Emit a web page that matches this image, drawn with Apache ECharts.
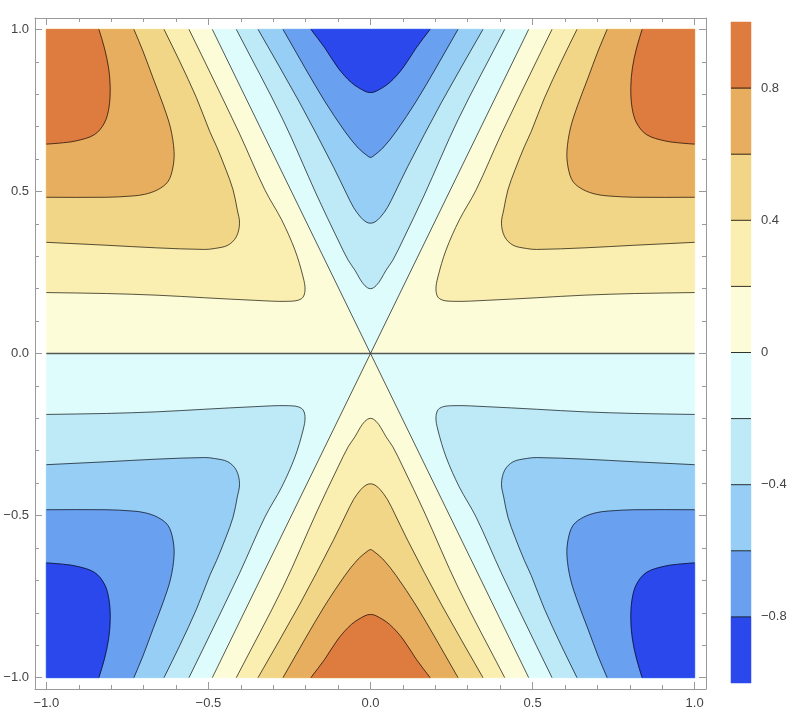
<!DOCTYPE html>
<html><head><meta charset="utf-8">
<script src="https://cdn.jsdelivr.net/npm/echarts@6/dist/echarts.min.js"></script>
<style>html,body{margin:0;padding:0;background:#fff}#c{width:800px;height:727px}</style>
</head><body><div id="c"></div>
<script>
// ---- data ----
const XR = [-1, 1];
const YR = [-1, 1];
const xMajorTicks = [-1, -0.5, 0, 0.5, 1];
const xMinorTicks = [-1, -0.9, -0.8, -0.7, -0.6, -0.5, -0.4, -0.3, -0.2, -0.1, 0, 0.1, 0.2, 0.3, 0.4, 0.5, 0.6, 0.7, 0.8, 0.9, 1];
const yMajorTicks = [-1, -0.5, 0, 0.5, 1];
const yMinorTicks = [-1, -0.9, -0.8, -0.7, -0.6, -0.5, -0.4, -0.3, -0.2, -0.1, 0, 0.1, 0.2, 0.3, 0.4, 0.5, 0.6, 0.7, 0.8, 0.9, 1];
const contourLevels = [-1, -0.8, -0.6, -0.4, -0.2, 0, 0.2, 0.4, 0.6, 0.8, 1];
const colorbarLabels = [-0.8, -0.4, 0, 0.4, 0.8];

// zero contours
const zeroAxis = [[-1, 0], [1, 0]];
const zeroTop = [[-0.488, 1], [0, 0], [0.488, 1]];
const zeroBottom = [[-0.488, -1], [0, 0], [0.488, -1]];

// top-left side contours (levels 0.2, 0.4, 0.6, 0.8)
const tl02 = [[-0.560,1],[-0.512,0.902],[-0.405,0.680],[-0.326,0.505],[-0.274,0.412],[-0.233,0.319],[-0.208,0.236],[-0.202,0.195],[-0.213,0.169],[-0.254,0.161],[-0.357,0.164],[-0.512,0.172],[-0.661,0.180],[-0.815,0.185],[-1,0.188]];
const tl04 = [[-0.637,1],[-0.589,0.902],[-0.537,0.789],[-0.496,0.685],[-0.475,0.639],[-0.446,0.567],[-0.424,0.505],[-0.411,0.443],[-0.404,0.402],[-0.414,0.360],[-0.440,0.334],[-0.481,0.324],[-0.512,0.321],[-0.661,0.326],[-0.815,0.334],[-1,0.343]];
const tl06 = [[-0.730,1],[-0.702,0.933],[-0.671,0.850],[-0.640,0.768],[-0.617,0.696],[-0.606,0.623],[-0.610,0.572],[-0.625,0.530],[-0.657,0.505],[-0.697,0.491],[-0.734,0.486],[-0.815,0.482],[-1,0.482]];
const tl08 = [[-0.838,1],[-0.821,0.943],[-0.808,0.881],[-0.803,0.820],[-0.807,0.758],[-0.821,0.711],[-0.852,0.675],[-0.908,0.656],[-0.960,0.649],[-1,0.646]];

// top-right side contours (levels 0.2 .. 0.8)
const tr02 = [[0.560,1],[0.512,0.902],[0.405,0.680],[0.326,0.505],[0.274,0.412],[0.233,0.319],[0.208,0.236],[0.202,0.195],[0.213,0.169],[0.254,0.161],[0.357,0.164],[0.512,0.172],[0.661,0.180],[0.815,0.185],[1,0.188]];
const tr04 = [[0.637,1],[0.589,0.902],[0.537,0.789],[0.496,0.685],[0.475,0.639],[0.446,0.567],[0.424,0.505],[0.411,0.443],[0.404,0.402],[0.414,0.360],[0.440,0.334],[0.481,0.324],[0.512,0.321],[0.661,0.326],[0.815,0.334],[1,0.343]];
const tr06 = [[0.730,1],[0.702,0.933],[0.671,0.850],[0.640,0.768],[0.617,0.696],[0.606,0.623],[0.610,0.572],[0.625,0.530],[0.657,0.505],[0.697,0.491],[0.734,0.486],[0.815,0.482],[1,0.482]];
const tr08 = [[0.838,1],[0.821,0.943],[0.808,0.881],[0.803,0.820],[0.807,0.758],[0.821,0.711],[0.852,0.675],[0.908,0.656],[0.960,0.649],[1,0.646]];

// bottom-left side contours (levels -0.2 .. -0.8)
const bl02 = [[-0.560,-1],[-0.512,-0.902],[-0.405,-0.680],[-0.326,-0.505],[-0.274,-0.412],[-0.233,-0.319],[-0.208,-0.236],[-0.202,-0.195],[-0.213,-0.169],[-0.254,-0.161],[-0.357,-0.164],[-0.512,-0.172],[-0.661,-0.180],[-0.815,-0.185],[-1,-0.188]];
const bl04 = [[-0.637,-1],[-0.589,-0.902],[-0.537,-0.789],[-0.496,-0.685],[-0.475,-0.639],[-0.446,-0.567],[-0.424,-0.505],[-0.411,-0.443],[-0.404,-0.402],[-0.414,-0.360],[-0.440,-0.334],[-0.481,-0.324],[-0.512,-0.321],[-0.661,-0.326],[-0.815,-0.334],[-1,-0.343]];
const bl06 = [[-0.730,-1],[-0.702,-0.933],[-0.671,-0.850],[-0.640,-0.768],[-0.617,-0.696],[-0.606,-0.623],[-0.610,-0.572],[-0.625,-0.530],[-0.657,-0.505],[-0.697,-0.491],[-0.734,-0.486],[-0.815,-0.482],[-1,-0.482]];
const bl08 = [[-0.838,-1],[-0.821,-0.943],[-0.808,-0.881],[-0.803,-0.820],[-0.807,-0.758],[-0.821,-0.711],[-0.852,-0.675],[-0.908,-0.656],[-0.960,-0.649],[-1,-0.646]];

// bottom-right side contours (levels -0.2 .. -0.8)
const br02 = [[0.560,-1],[0.512,-0.902],[0.405,-0.680],[0.326,-0.505],[0.274,-0.412],[0.233,-0.319],[0.208,-0.236],[0.202,-0.195],[0.213,-0.169],[0.254,-0.161],[0.357,-0.164],[0.512,-0.172],[0.661,-0.180],[0.815,-0.185],[1,-0.188]];
const br04 = [[0.637,-1],[0.589,-0.902],[0.537,-0.789],[0.496,-0.685],[0.475,-0.639],[0.446,-0.567],[0.424,-0.505],[0.411,-0.443],[0.404,-0.402],[0.414,-0.360],[0.440,-0.334],[0.481,-0.324],[0.512,-0.321],[0.661,-0.326],[0.815,-0.334],[1,-0.343]];
const br06 = [[0.730,-1],[0.702,-0.933],[0.671,-0.850],[0.640,-0.768],[0.617,-0.696],[0.606,-0.623],[0.610,-0.572],[0.625,-0.530],[0.657,-0.505],[0.697,-0.491],[0.734,-0.486],[0.815,-0.482],[1,-0.482]];
const br08 = [[0.838,-1],[0.821,-0.943],[0.808,-0.881],[0.803,-0.820],[0.807,-0.758],[0.821,-0.711],[0.852,-0.675],[0.908,-0.656],[0.960,-0.649],[1,-0.646]];

// top central wedge contours (levels -0.2 .. -0.8)
const wt02 = [[-0.414,1],[-0.270,0.721],[-0.166,0.489],[-0.100,0.350],[-0.069,0.288],[-0.048,0.257],[-0.032,0.229],[-0.017,0.209],[0,0.200],[0.017,0.209],[0.032,0.229],[0.048,0.257],[0.069,0.288],[0.100,0.350],[0.166,0.489],[0.270,0.721],[0.414,1]];
const wt04 = [[-0.347,1],[-0.218,0.773],[-0.115,0.577],[-0.075,0.495],[-0.052,0.450],[-0.030,0.420],[-0.014,0.406],[0,0.402],[0.014,0.406],[0.030,0.420],[0.052,0.450],[0.075,0.495],[0.115,0.577],[0.218,0.773],[0.347,1]];
const wt06 = [[-0.270,1],[-0.202,0.881],[-0.141,0.778],[-0.079,0.685],[-0.038,0.634],[-0.007,0.608],[0,0.605],[0.007,0.608],[0.038,0.634],[0.079,0.685],[0.141,0.778],[0.202,0.881],[0.270,1]];
const wt08 = [[-0.184,1],[-0.141,0.943],[-0.100,0.881],[-0.058,0.835],[-0.017,0.809],[0,0.805],[0.017,0.809],[0.058,0.835],[0.100,0.881],[0.141,0.943],[0.184,1]];

// bottom central wedge contours (levels 0.2 .. 0.8)
const wb02 = [[-0.414,-1],[-0.270,-0.721],[-0.166,-0.489],[-0.100,-0.350],[-0.069,-0.288],[-0.048,-0.257],[-0.032,-0.229],[-0.017,-0.209],[0,-0.200],[0.017,-0.209],[0.032,-0.229],[0.048,-0.257],[0.069,-0.288],[0.100,-0.350],[0.166,-0.489],[0.270,-0.721],[0.414,-1]];
const wb04 = [[-0.347,-1],[-0.218,-0.773],[-0.115,-0.577],[-0.075,-0.495],[-0.052,-0.450],[-0.030,-0.420],[-0.014,-0.406],[0,-0.402],[0.014,-0.406],[0.030,-0.420],[0.052,-0.450],[0.075,-0.495],[0.115,-0.577],[0.218,-0.773],[0.347,-1]];
const wb06 = [[-0.270,-1],[-0.202,-0.881],[-0.141,-0.778],[-0.079,-0.685],[-0.038,-0.634],[-0.007,-0.608],[0,-0.605],[0.007,-0.608],[0.038,-0.634],[0.079,-0.685],[0.141,-0.778],[0.202,-0.881],[0.270,-1]];
const wb08 = [[-0.184,-1],[-0.141,-0.943],[-0.100,-0.881],[-0.058,-0.835],[-0.017,-0.809],[0,-0.805],[0.017,-0.809],[0.058,-0.835],[0.100,-0.881],[0.141,-0.943],[0.184,-1]];

// ---- styles ----
const posColors = ['#FCFCD8', '#FAEEB0', '#F2D687', '#E8AE5F', '#DE7B3E'];
const negColors = ['#DFFCFC', '#BEEAF8', '#96CEF5', '#6AA0F0', '#2B48EC'];
const bandColors = [negColors[4], negColors[3], negColors[2], negColors[1], negColors[0], posColors[0], posColors[1], posColors[2], posColors[3], posColors[4]];
const FONT = '"Liberation Sans", Arial, sans-serif';
const PAD = 0.035;

// ---- regions (nested, painted from low to high magnitude) ----
const regions = [];
regions.push({ pts: [[XR[0], 0], [XR[1], 0], [XR[1], YR[1]], [XR[0], YR[1]]], color: posColors[0], straight: true });
regions.push({ pts: [[XR[0], 0], [XR[1], 0], [XR[1], YR[0]], [XR[0], YR[0]]], color: negColors[0], straight: true });
regions.push({ pts: zeroTop, color: negColors[0], straight: true });
regions.push({ pts: zeroBottom, color: posColors[0], straight: true });
const sets = [
  [tl02, tr02, wt02, bl02, br02, wb02],
  [tl04, tr04, wt04, bl04, br04, wb04],
  [tl06, tr06, wt06, bl06, br06, wb06],
  [tl08, tr08, wt08, bl08, br08, wb08]
];
sets.forEach((s, i) => {
  const k = i + 1;
  regions.push({ pts: s[0], corner: [XR[0], YR[1]], color: posColors[k] });
  regions.push({ pts: s[1], corner: [XR[1], YR[1]], color: posColors[k] });
  regions.push({ pts: s[2], color: negColors[k] });
  regions.push({ pts: s[3], corner: [XR[0], YR[0]], color: negColors[k] });
  regions.push({ pts: s[4], corner: [XR[1], YR[0]], color: negColors[k] });
  regions.push({ pts: s[5], color: posColors[k] });
});
const curves = [].concat(...sets);

// smooth path through pixel points (Hermite with chord-limited tangents)
function smoothD(P) {
  const n = P.length;
  let d = 'M' + P[0][0].toFixed(2) + ' ' + P[0][1].toFixed(2);
  const unit = (a, b) => { const dx = b[0] - a[0], dy = b[1] - a[1]; const l = Math.hypot(dx, dy) || 1; return [dx / l, dy / l]; };
  for (let i = 0; i < n - 1; i++) {
    const p0 = P[Math.max(i - 1, 0)], p1 = P[i], p2 = P[i + 1], p3 = P[Math.min(i + 2, n - 1)];
    const L = Math.hypot(p2[0] - p1[0], p2[1] - p1[1]) / 3;
    const t1 = unit(p0, p2), t2 = unit(p1, p3);
    const c1 = [p1[0] + t1[0] * L, p1[1] + t1[1] * L];
    const c2 = [p2[0] - t2[0] * L, p2[1] - t2[1] * L];
    d += ' C' + c1[0].toFixed(2) + ' ' + c1[1].toFixed(2) + ' ' + c2[0].toFixed(2) + ' ' + c2[1].toFixed(2) + ' ' + p2[0].toFixed(2) + ' ' + p2[1].toFixed(2);
  }
  return d;
}
function straightD(P) {
  return P.map((p, i) => (i ? 'L' : 'M') + p[0].toFixed(2) + ' ' + p[1].toFixed(2)).join(' ');
}

const fmt = v => (v < 0 ? '\u2212' : '') + Math.abs(v).toFixed(1);
const fmtCb = v => Math.abs(v) < 1e-9 ? '0' : (v < 0 ? '\u2212' : '') + Math.abs(v).toFixed(1);

const frameColor = '#9a9a9a';
const labelStyle = { color: '#444', fontSize: 13, fontFamily: FONT };

function frameAxis(pos, ticks, len, withLine, withLabel, isY) {
  return {
    gridIndex: 0, type: 'value', min: -1 - PAD, max: 1 + PAD, position: pos,
    axisLine: { show: withLine, onZero: false, lineStyle: { color: frameColor, width: 1 } },
    axisTick: { show: true, inside: true, length: len, customValues: ticks, lineStyle: { color: frameColor, width: 1 } },
    axisLabel: withLabel ? Object.assign({ show: true, customValues: ticks, formatter: fmt, margin: isY ? 6 : 8 }, labelStyle) : { show: false },
    splitLine: { show: false }
  };
}

const chart = echarts.init(document.getElementById('c'), null, { renderer: 'canvas' });
chart.setOption({
  animation: false,
  backgroundColor: '#fff',
  grid: [
    { left: 35, top: 18, width: 671, height: 671 },
    { left: 731, top: 22, width: 20, height: 661 }
  ],
  xAxis: [
    frameAxis('bottom', xMajorTicks, 7, true, true, false),
    frameAxis('bottom', xMinorTicks, 4, false, false, false),
    frameAxis('top', xMajorTicks, 7, true, false, false),
    frameAxis('top', xMinorTicks, 4, false, false, false),
    { gridIndex: 1, type: 'value', min: 0, max: 1, show: false }
  ],
  yAxis: [
    frameAxis('left', yMajorTicks, 7, true, true, true),
    frameAxis('left', yMinorTicks, 4, false, false, true),
    frameAxis('right', yMajorTicks, 7, true, false, true),
    frameAxis('right', yMinorTicks, 4, false, false, true),
    {
      gridIndex: 1, type: 'value', min: -1, max: 1, position: 'right',
      axisLine: { show: false },
      axisTick: { show: true, inside: false, length: 6, customValues: colorbarLabels, lineStyle: { color: frameColor } },
      axisLabel: Object.assign({ show: true, customValues: colorbarLabels, formatter: fmtCb, margin: 10 }, labelStyle),
      splitLine: { show: false }
    }
  ],
  series: [
    {
      type: 'custom', xAxisIndex: 0, yAxisIndex: 0, z: 1,
      data: regions.map(r => r.pts[0]),
      renderItem: (params, api) => {
        const r = regions[params.dataIndex];
        const px = r.pts.map(p => api.coord(p));
        let d = r.straight ? straightD(px) : smoothD(px);
        if (r.corner) { const c = api.coord(r.corner); d += ' L' + c[0].toFixed(2) + ' ' + c[1].toFixed(2); }
        d += ' Z';
        return { type: 'path', shape: { pathData: d },
          style: { fill: r.color, stroke: r.color, lineWidth: 0.6 } };
      }
    },
    {
      type: 'custom', xAxisIndex: 0, yAxisIndex: 0, z: 3,
      data: curves.map(c => c[0]),
      renderItem: (params, api) => {
        const c = curves[params.dataIndex];
        return { type: 'path', shape: { pathData: smoothD(c.map(p => api.coord(p))) },
          style: { fill: null, stroke: 'rgba(0,0,0,0.72)', lineWidth: 0.9 } };
      }
    },
    {
      type: 'custom', xAxisIndex: 0, yAxisIndex: 0, z: 3,
      data: [zeroTop[0], zeroBottom[0]],
      renderItem: (params, api) => {
        const c = params.dataIndex === 0 ? zeroTop : zeroBottom;
        return { type: 'polyline', shape: { points: c.map(p => api.coord(p)) },
          style: { fill: null, stroke: 'rgba(0,0,0,0.72)', lineWidth: 0.9 } };
      }
    },
    {
      type: 'custom', xAxisIndex: 0, yAxisIndex: 0, z: 3,
      data: [zeroAxis[0]],
      renderItem: (params, api) => ({ type: 'polyline', shape: { points: zeroAxis.map(p => api.coord(p)) },
        style: { fill: null, stroke: 'rgba(60,60,60,0.85)', lineWidth: 1.4 } })
    },
    {
      type: 'custom', xAxisIndex: 4, yAxisIndex: 4, z: 2,
      data: bandColors.map((c, i) => [0, contourLevels[i]]),
      renderItem: (params, api) => {
        const i = params.dataIndex;
        const a = api.coord([0, contourLevels[i + 1]]);
        const b = api.coord([1, contourLevels[i]]);
        const children = [{ type: 'rect', shape: { x: a[0], y: a[1], width: b[0] - a[0], height: b[1] - a[1] },
          style: { fill: bandColors[i], stroke: bandColors[i], lineWidth: 0.5 } }];
        if (i > 0) {
          children.push({ type: 'line', shape: { x1: a[0], y1: b[1], x2: b[0], y2: b[1] },
            style: { stroke: 'rgba(0,0,0,0.8)', lineWidth: 1 }, z2: 5 });
        }
        return { type: 'group', children };
      }
    }
  ]
});
</script>
</body></html>
